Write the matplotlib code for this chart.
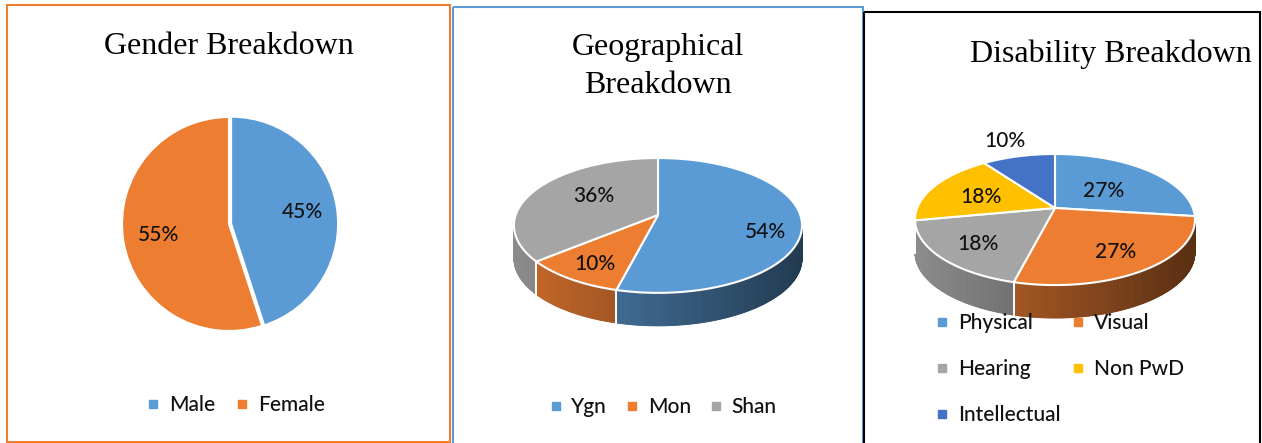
import numpy as np
import matplotlib.pyplot as plt
from matplotlib.patches import Rectangle, Polygon
from matplotlib.lines import Line2D

# data
gender_labels = ['Male', 'Female']
gender_values = [45, 55]

geo_labels = ['Ygn', 'Mon', 'Shan']
geo_values = [54, 10, 36]

dis_labels = ['Physical', 'Visual', 'Hearing', 'Non PwD', 'Intellectual']
dis_values = [27, 27, 18, 18, 10]

BLUE, ORANGE, GRAY, YELLOW, DBLUE = '#5B9BD5', '#ED7D31', '#A5A5A5', '#FFC000', '#4472C4'
gender_colors = [BLUE, ORANGE]
geo_colors = [BLUE, ORANGE, GRAY]
dis_colors = [BLUE, ORANGE, GRAY, YELLOW, DBLUE]

W, H = 1262, 443
SANS = 'Lato'
SERIF = 'Liberation Serif'
TXT = '#111111'

fig = plt.figure(figsize=(W / 100, H / 100), dpi=100)
bg = fig.add_axes([0, 0, 1, 1])
bg.set_xlim(0, W)
bg.set_ylim(H, 0)
bg.axis('off')

# panel borders
bg.add_patch(Rectangle((7, 5), 443, 437, fill=False, ec=ORANGE, lw=1.5))
bg.add_patch(Rectangle((453, 7), 410, 445, fill=False, ec=BLUE, lw=1.5))
bg.add_patch(Rectangle((864, 12), 396, 445, fill=False, ec='black', lw=1.5))


def shade(color, f):
    r, g, b = [int(color[i:i + 2], 16) / 255 for i in (1, 3, 5)]
    return (r * f, g * f, b * f)


def pie3d(ax, values, colors, vx, vy, s, c, p, depth, lab_r):
    # tilted disc seen in perspective: (u, v) on unit circle -> screen
    def proj(t, r=1.0):
        u, v = r * np.cos(t), r * np.sin(t)
        d = 1 + p * v
        return vx + s * u / d, vy - c * v / d

    total = float(sum(values))
    start = 90.0
    spans = []
    for v in values:
        end = start - 360.0 * v / total
        spans.append((end, start))
        start = end

    left = vx - s / np.sqrt(1 - p * p)
    width = 2 * s / np.sqrt(1 - p * p)
    edge = np.degrees(np.arcsin(p))
    f_lo, f_hi = 180 + edge, 360 - edge

    # front side walls, shaded darker to the right
    for (t0, t1), col in zip(spans, colors):
        for k in (-1, 0):
            lo = max(t0, f_lo + 360 * k)
            hi = min(t1, f_hi + 360 * k)
            if hi <= lo:
                continue
            ts = np.linspace(lo, hi, int(hi - lo) * 2 + 2)
            for i in range(len(ts) - 1):
                xs, ys = proj(np.radians(ts[i:i + 2]))
                f = 0.85 - 0.47 * (xs.mean() - left) / width
                cc = shade(col, f)
                poly = np.column_stack([np.r_[xs, xs[::-1]],
                                        np.r_[ys, ys[::-1] + depth]])
                ax.add_patch(Polygon(poly, closed=True, fc=cc, ec=cc, lw=0.6))
            for t in (lo, hi):
                if t in (t0, t1):
                    x, y = proj(np.radians(t))
                    ax.plot([x, x], [y, y + depth], color='white', lw=1.2)

    # top faces
    for (t0, t1), col in zip(spans, colors):
        xs, ys = proj(np.radians(np.linspace(t0, t1, 200)))
        poly = np.column_stack([np.r_[vx, xs], np.r_[vy, ys]])
        ax.add_patch(Polygon(poly, closed=True, fc=col, ec='white', lw=1.5,
                             joinstyle='round'))

    # label positions
    pos = []
    for (t0, t1), r in zip(spans, lab_r):
        x, y = proj(np.radians((t0 + t1) / 2), r)
        pos.append((x, y + 3))
    return pos


lab_kw = dict(ha='center', va='center', fontsize=15, family=SANS,
              fontweight='medium', color=TXT)

# ---- Gender (flat pie) ----
gx, gy, gr = 229, 224, 107
pax = fig.add_axes([(gx - gr) / W, 1 - (gy + gr) / H, 2 * gr / W, 2 * gr / H])
pax.pie(gender_values, colors=gender_colors, startangle=90, counterclock=False,
        explode=[0.02, 0], autopct='%d%%', pctdistance=0.67,
        wedgeprops=dict(edgecolor='white', linewidth=1.5),
        textprops=dict(fontsize=15, family=SANS, fontweight='medium', color=TXT))
pax.set_xlim(-1, 1)
pax.set_ylim(-1, 1)
bg.text(229, 46, 'Gender Breakdown', ha='center', va='center',
        fontsize=23, family=SERIF)

# ---- Geographical (3D pie) ----
geo_pos = pie3d(bg, geo_values, geo_colors, 658, 215, 142.3, 65.8, 0.155, 33,
                lab_r=[0.75, 0.75, 0.58])
geo_pos[0] = (geo_pos[0][0], geo_pos[0][1] + 8)
geo_pos[2] = (geo_pos[2][0] + 8, geo_pos[2][1] - 6)
for (x, y), v in zip(geo_pos, geo_values):
    bg.text(x, y, f'{v}%', **lab_kw)
bg.text(658, 47, 'Geographical', ha='center', va='center',
        fontsize=23, family=SERIF)
bg.text(658, 85, 'Breakdown', ha='center', va='center',
        fontsize=23, family=SERIF)

# ---- Disability (3D pie) ----
dis_pos = pie3d(bg, dis_values, dis_colors, 1055, 208, 137.8, 63.5, 0.176, 33,
                lab_r=[0.5, 0.7, 0.7, 0.6, 1.45])
for (x, y), v in zip(dis_pos, dis_values):
    bg.text(x, y, f'{v}%', **lab_kw)
bg.text(1111, 54, 'Disability Breakdown', ha='center', va='center',
        fontsize=23, family=SERIF)


def handles(labels, colors):
    return [Line2D([], [], ls='none', marker='s', ms=5.5, mfc=c, mec=c, label=l)
            for l, c in zip(labels, colors)]


leg_kw = dict(frameon=False, prop=dict(family=SANS, size=15, weight='medium'),
              handlelength=0.6, handletextpad=0.45, borderaxespad=0, borderpad=0,
              labelcolor=TXT)

l1 = bg.legend(handles=handles(gender_labels, gender_colors), ncol=2,
               loc='center', bbox_to_anchor=(236, 405), bbox_transform=bg.transData,
               columnspacing=1.0, **leg_kw)
bg.add_artist(l1)
l2 = bg.legend(handles=handles(geo_labels, geo_colors), ncol=3,
               loc='center', bbox_to_anchor=(663, 407), bbox_transform=bg.transData,
               columnspacing=0.9, **leg_kw)
bg.add_artist(l2)
order = [0, 2, 4, 1, 3]
dh = handles(dis_labels, dis_colors)
l3 = bg.legend(handles=[dh[i] for i in order], ncol=2,
               loc='upper left', bbox_to_anchor=(936, 313), bbox_transform=bg.transData,
               columnspacing=0.55, labelspacing=1.25, **leg_kw)

fig.savefig('out.png', dpi=100)
